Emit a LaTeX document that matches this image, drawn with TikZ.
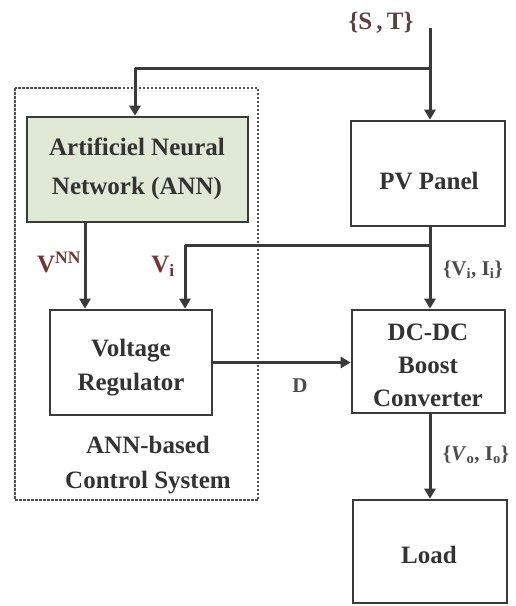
\documentclass[tikz,border=0pt]{standalone}
\usepackage{fontspec}
\setmainfont{Liberation Serif}
\usetikzlibrary{arrows.meta}
\definecolor{lbl}{HTML}{703636}
\definecolor{stc}{HTML}{5E4040}
\definecolor{edge}{HTML}{3A3A3A}
\definecolor{anngreen}{HTML}{DFE9D6}
\tikzset{
  blk/.style={draw=edge, line width=2.6pt, inner sep=0pt},
  txt/.style={align=center, font=\fontsize{25}{36}\selectfont\bfseries, text=black!80, inner sep=0pt},
  conn/.style={draw=edge, line width=3pt, -{Triangle[length=10pt,width=11pt]}},
  plain/.style={draw=edge, line width=3pt},
  lab/.style={font=\fontsize{25}{28}\selectfont\bfseries, text=lbl},
  glab/.style={font=\fontsize{21}{24}\selectfont\bfseries, text=black!70},
}
\begin{document}
\begin{tikzpicture}[x=1pt,y=-1pt]
\useasboundingbox (0,0) rectangle (516,606);
% dashed container
\draw[edge!90, line width=2pt, dash pattern=on 2.5pt off 1.5pt] (15,88) rectangle (258,500);
% boxes
\node[blk, fill=anngreen, minimum width=221pt, minimum height=105pt] (ann) at (137.5,169.5) {};
\node[txt, font=\fontsize{25}{39}\selectfont\bfseries] (annt) at (137,168.5) {Artificiel Neural\\Network (ANN)};
\node[blk, minimum width=154pt, minimum height=105pt] (pv) at (428,173.5) {};
\node[txt] (pvt) at (429,181) {PV Panel};
\node[blk, minimum width=162pt, minimum height=105pt] (vr) at (131,362.5) {};
\node[txt, font=\fontsize{25}{34}\selectfont\bfseries] (vrt) at (131,368) {Voltage\\Regulator};
\node[blk, minimum width=153pt, minimum height=103pt] (dc) at (428.5,361.5) {};
\node[txt, font=\fontsize{25}{33}\selectfont\bfseries] (dct) at (428,365.5) {DC-DC\\Boost\\Converter};
\node[blk, minimum width=154pt, minimum height=103pt] (load) at (430,551.5) {};
\node[txt] (loadt) at (429,555) {Load};
\node[txt, font=\fontsize{25}{35}\selectfont\bfseries] (ctl) at (148,465) {ANN-based\\Control System};
% input
\node[font=\fontsize{25}{28}\selectfont\bfseries, text=stc] (st) at (381,23) {\{S\,,\,T\}};
\coordinate (top) at (430,28);
\coordinate (j1) at (430,68);
\coordinate (j1l) at (135,68);
\coordinate (j2) at (430,245);
\coordinate (j2l) at (185,245);
\draw[conn] (top) -- (top |- pv.north);
\draw[plain] (j1) -- (j1l);
\draw[conn] (j1l) -- (j1l |- ann.north);
% ANN to VR
\draw[conn] (85,222) coordinate (annout) -- (annout |- vr.north);
\node[lab] (vnn) at (59,262) {V$^{\mathbf{NN}}$};
% PV to DC
\draw[conn] (430,226) coordinate (pvout) -- (pvout |- dc.north);
\draw[plain] (j2) -- (j2l);
\draw[conn] (j2l) -- (j2l |- vr.north);
\node[lab] (vi) at (163,266) {V$_{\mathbf{i}}$};
\node[glab] (viii) at (473,270) {\{V$_\mathbf{i}$, I$_\mathbf{i}$\}};
% VR to DC
\draw[conn] (vr.east) -- (vr.east -| dc.west);
\node[glab] (d) at (300,386) {D};
% DC to Load
\draw[conn] (430,413) coordinate (dcout) -- (dcout |- load.north);
\node[glab] (vo) at (476,455) {\{\textit{V}$_\mathbf{o}$, I$_\mathbf{o}$\}};
\end{tikzpicture}
\end{document}
